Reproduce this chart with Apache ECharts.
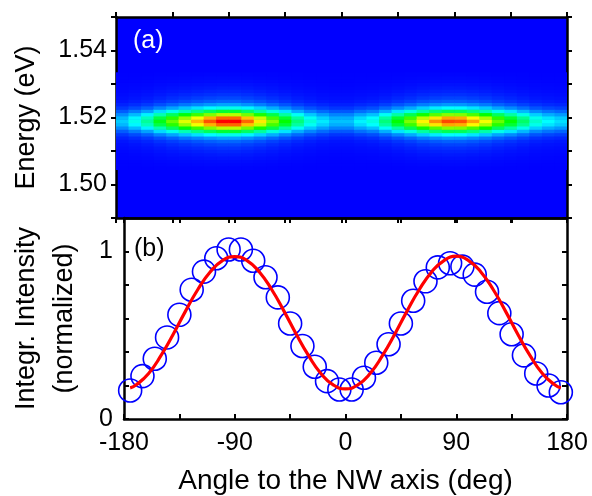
<!DOCTYPE html>
<html>
<head>
<meta charset="utf-8">
<script src="https://cdn.jsdelivr.net/npm/echarts@6/dist/echarts.min.js"></script>
<style>
    html, body { margin: 0; padding: 0; background: #fff; }
    #main { width: 592px; height: 496px; }
</style>
</head>
<body>
<div id="main"></div>
<script>
// measured points (b): angle to NW axis (deg) and normalized integrated intensity
var angles = [-175, -165, -155, -145, -135, -125, -115, -105, -95, -85, -75, -65, -55, -45, -35, -25, -15, -5,
              5, 15, 25, 35, 45, 55, 65, 75, 85, 95, 105, 115, 125, 135, 145, 155, 165, 175];
var intensity = [0.17, 0.256, 0.36, 0.487, 0.622, 0.772, 0.88, 0.96, 1.012, 1.012, 0.945, 0.846, 0.726, 0.57, 0.436, 0.312, 0.226, 0.176,
                 0.176, 0.246, 0.336, 0.446, 0.57, 0.706, 0.822, 0.905, 0.93, 0.91, 0.862, 0.76, 0.632, 0.506, 0.38, 0.272, 0.2, 0.16];

// red fit curve
var fitAngles = [-175, -170, -160, -150, -140, -130, -120, -110, -100, -90, -80, -70, -60, -50, -40, -30, -20, -10, 0,
                 10, 20, 30, 40, 50, 60, 70, 80, 90, 100, 110, 120, 130, 140, 150, 160, 170, 175];
var fitValues = [0.186, 0.204, 0.272, 0.378, 0.506, 0.644, 0.773, 0.878, 0.946, 0.97, 0.946, 0.878, 0.773, 0.644, 0.506, 0.378, 0.272, 0.204, 0.18,
                 0.204, 0.272, 0.378, 0.506, 0.644, 0.773, 0.878, 0.946, 0.972, 0.946, 0.878, 0.773, 0.644, 0.506, 0.378, 0.272, 0.204, 0.186];

// map (a): peak height of each angle column and spectral line shape along energy
var mapPeak = [0.2, 0.27, 0.35, 0.48, 0.6, 0.72, 0.82, 0.92, 1.0, 1.0, 0.9, 0.77, 0.63, 0.5, 0.38, 0.29, 0.23, 0.19,
               0.19, 0.24, 0.28, 0.38, 0.5, 0.62, 0.76, 0.86, 0.93, 0.92, 0.84, 0.74, 0.6, 0.5, 0.4, 0.3, 0.25, 0.22];
var energies = [1.505, 1.506, 1.507, 1.508, 1.509, 1.510, 1.511, 1.512, 1.513, 1.514, 1.515, 1.516, 1.517, 1.518, 1.519,
                1.520, 1.521, 1.522, 1.523, 1.524, 1.525, 1.526, 1.527, 1.528, 1.529, 1.530, 1.531, 1.532, 1.533];
var lineShape = [0.004, 0.008, 0.012, 0.018, 0.026, 0.036, 0.05, 0.07, 0.1, 0.16, 0.27, 0.45, 0.68, 0.9, 1.0,
                 0.9, 0.68, 0.45, 0.27, 0.16, 0.1, 0.07, 0.05, 0.036, 0.026, 0.018, 0.012, 0.008, 0.004];

// tick labels
var angleLabels = ['-180', '-90', '0', '90', '180'];
var energyLabels = ['1.50', '1.52', '1.54'];
var intensityLabels = ['0', '1'];

var cells = [];
for (var i = 0; i < angles.length; i++) {
    for (var j = 0; j < energies.length; j++) {
        cells.push([angles[i], energies[j], mapPeak[i] * lineShape[j]]);
    }
}

var fitData = fitAngles.map(function (a, k) { return [a, fitValues[k]]; });
var pointData = angles.map(function (a, k) { return [a, intensity[k]]; });

var font = 'Liberation Sans, Arial, sans-serif';
var black = '#000';

function xAx(grid, pos, inside, labels, name) {
    return {
        type: 'value', gridIndex: grid, position: pos,
        min: -180, max: 180, interval: 45,
        axisLine: { show: true, onZero: false, lineStyle: { color: black, width: 2.5 } },
        axisTick: { show: true, inside: inside, length: 5, lineStyle: { color: black, width: 2 } },
        splitLine: { show: false },
        axisLabel: {
            show: labels, margin: 12, color: black, fontFamily: font, fontSize: 25,
            formatter: function (v) { var s = String(Math.round(v)); return angleLabels.indexOf(s) >= 0 ? s : ''; }
        },
        name: name || '', nameLocation: 'middle', nameGap: 48,
        nameTextStyle: { color: black, fontFamily: font, fontSize: 28 }
    };
}

function yAx(grid, pos, inside, min, max, step, label, name, gap) {
    return {
        type: 'value', gridIndex: grid, position: pos, min: min, max: max, interval: step,
        axisLine: { show: true, onZero: false, lineStyle: { color: black, width: 2.5 } },
        axisTick: { show: true, inside: inside, length: 5, lineStyle: { color: black, width: 2 } },
        splitLine: { show: false },
        axisLabel: label ? label : { show: false },
        name: name || '', nameLocation: 'middle', nameGap: gap || 0,
        nameTextStyle: { color: black, fontFamily: font, fontSize: 27, lineHeight: 38 }
    };
}

var option = {
    animation: false,
    backgroundColor: '#fff',
    grid: [
        { left: 114, right: 25, top: 17, height: 201, show: true, backgroundColor: '#0000ff', borderWidth: 0 },
        { left: 114, right: 25, top: 218, height: 201 }
    ],
    xAxis: [
        xAx(0, 'bottom', false, false),
        xAx(0, 'top', false, false),
        xAx(1, 'bottom', true, true, 'Angle to the NW axis (deg)'),
        xAx(1, 'top', true, false)
    ],
    yAxis: [
        yAx(0, 'left', false, 1.49, 1.55, 0.01, {
            margin: 9, color: black, fontFamily: font, fontSize: 25,
            formatter: function (v) { var s = v.toFixed(2); return energyLabels.indexOf(s) >= 0 ? s : ''; }
        }, 'Energy (eV)', 70),
        yAx(0, 'right', false, 1.49, 1.55, 0.01),
        yAx(1, 'left', true, 0, 1.2, 0.2, {
            margin: 11, color: black, fontFamily: font, fontSize: 25,
            formatter: function (v) { var s = String(Math.round(v * 10) / 10); return intensityLabels.indexOf(s) >= 0 ? s : ''; }
        }, 'Integr. Intensity\n(normalized)', 40),
        yAx(1, 'right', true, 0, 1.2, 0.2)
    ],
    visualMap: {
        show: false, type: 'continuous', seriesIndex: 0, dimension: 2, min: 0, max: 1,
        inRange: { color: ['#0000ff', '#00ffff', '#00ff00', '#ffff00', '#ff0000'] }
    },
    graphic: [
        { type: 'text', left: 133, top: 29, style: { text: '(a)', fill: '#fff', font: '25px ' + font } },
        { type: 'text', left: 134, top: 237, style: { text: '(b)', fill: '#000', font: '25px ' + font } }
    ],
    series: [
        {
            type: 'custom', xAxisIndex: 0, yAxisIndex: 0, clip: true,
            data: cells,
            renderItem: function (params, api) {
                var x = api.value(0), y = api.value(1);
                var p0 = api.coord([x - 5, y + 0.0005]);
                var p1 = api.coord([x + 5, y - 0.0005]);
                return {
                    type: 'rect',
                    shape: { x: p0[0], y: p0[1], width: p1[0] - p0[0] + 0.6, height: p1[1] - p0[1] + 0.6 },
                    style: { fill: api.visual('color') }
                };
            }
        },
        {
            type: 'scatter', xAxisIndex: 2, yAxisIndex: 2,
            data: pointData,
            symbol: 'circle', symbolSize: 23,
            itemStyle: { color: 'rgba(0,0,0,0)', borderColor: '#0000ff', borderWidth: 1.6, opacity: 1 },
            z: 2
        },
        {
            type: 'line', xAxisIndex: 2, yAxisIndex: 2,
            data: fitData, smooth: true, showSymbol: false,
            lineStyle: { color: '#ff0000', width: 3.2 },
            z: 3
        }
    ]
};

var myChart = echarts.init(document.getElementById('main'));
myChart.setOption(option);
</script>
</body>
</html>
